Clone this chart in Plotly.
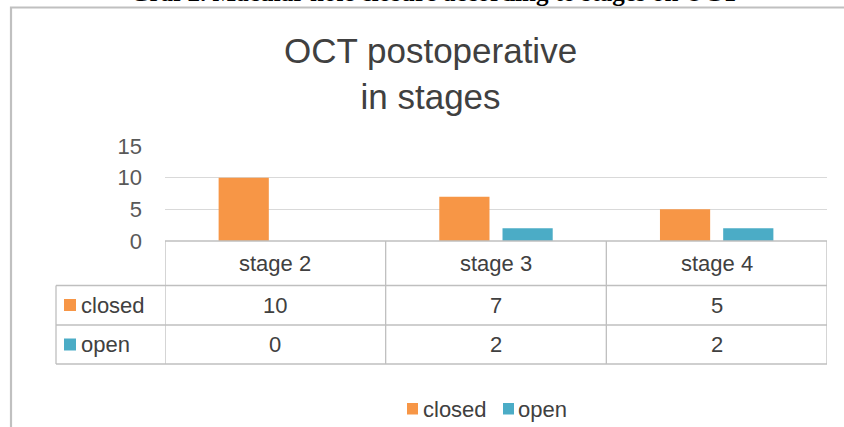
import plotly.graph_objects as go

# ---- data ----
categories = ["stage 2", "stage 3", "stage 4"]
series_names = ["closed", "open"]
closed = [10, 7, 5]
open_ = [0, 2, 2]
series_values = [closed, open_]
series_colors = ["#F79646", "#4BACC6"]
y_ticks = [0, 5, 10, 15]
title_text = "OCT postoperative<br>in stages"
caption_text = "<b>Graf 2. Macular hole closure according to stages on OCT</b>"

# ---- geometry (pixels) ----
W_FIG, H_FIG = 844, 427
L, R, T, B = 165, 17, 146, 186
PW = W_FIG - L - R
PH = H_FIG - T - B
BASE = H_FIG - B  # pixel row of y=0


def px(xp):
    return (xp - L) / PW


def py(yp):
    return (BASE - yp) / PH


fig = go.Figure()
for name, vals, col in zip(series_names, series_values, series_colors):
    fig.add_trace(go.Bar(x=categories, y=vals, name=name, marker_color=col,
                         marker_line_width=0, showlegend=False, hoverinfo="skip"))

grid_col = "#D9D9D9"
tab_col = "#BFBFBF"
txt_col = "#404040"
font_fam = "Liberation Sans, Arial, sans-serif"

shapes = []
annotations = []

# table horizontal lines
row_lines = [241, 285.5, 325, 364]
for i, yl in enumerate(row_lines):
    x0 = L if i == 0 else 56
    shapes.append(dict(type="line", xref="paper", yref="paper",
                       x0=px(x0), x1=px(L + PW), y0=py(yl), y1=py(yl),
                       line=dict(color=tab_col, width=1.3)))
# table vertical lines at category boundaries
n = len(categories)
for k in range(n + 1):
    shapes.append(dict(type="line", xref="x", yref="paper",
                       x0=k - 0.5, x1=k - 0.5, y0=py(241), y1=py(364),
                       line=dict(color=tab_col, width=1.3)))
shapes.append(dict(type="line", xref="paper", yref="paper",
                   x0=px(56), x1=px(56), y0=py(285.5), y1=py(364),
                   line=dict(color=tab_col, width=1.3)))

# header labels
for c in categories:
    annotations.append(dict(x=c, y=py(263.5), xref="x", yref="paper", text=c,
                            xanchor="center", yanchor="middle",
                            showarrow=False, font=dict(size=22, color=txt_col)))
# table values
row_centers = [305, 344.5]
for name, vals, col, yc in zip(series_names, series_values, series_colors, row_centers):
    for c, v in zip(categories, vals):
        annotations.append(dict(x=c, y=py(yc), xref="x", yref="paper", text=str(v),
                                xanchor="center", yanchor="middle",
                                showarrow=False, font=dict(size=22, color=txt_col)))
    shapes.append(dict(type="rect", xref="paper", yref="paper",
                       x0=px(64), x1=px(76), y0=py(yc - 6), y1=py(yc + 6),
                       fillcolor=col, line=dict(width=0)))
    annotations.append(dict(x=px(79), y=py(yc), xref="paper", yref="paper", text=name,
                            xanchor="left", yanchor="middle", showarrow=False,
                            font=dict(size=22, color=txt_col)))

# bottom legend
leg_items = [(407, 423), (503, 518)]
for (sx, tx), name, col in zip(leg_items, series_names, series_colors):
    shapes.append(dict(type="rect", xref="paper", yref="paper",
                       x0=px(sx), x1=px(sx + 11), y0=py(403), y1=py(414.5),
                       fillcolor=col, line=dict(width=0)))
    annotations.append(dict(x=px(tx - 2), y=py(409), xref="paper", yref="paper", text=name,
                            xanchor="left", yanchor="middle", showarrow=False,
                            font=dict(size=22, color=txt_col)))

# chart frame
shapes.append(dict(type="rect", xref="paper", yref="paper",
                   x0=px(11), x1=px(W_FIG + 10), y0=py(7.5), y1=py(H_FIG + 10),
                   line=dict(color="#C0C0C0", width=2.2), layer="below"))

# cut-off caption at top
annotations.append(dict(x=px(434), y=py(8), xref="paper", yref="paper",
                        text=caption_text, showarrow=False, xanchor="center",
                        yanchor="bottom",
                        font=dict(size=25, color="#000000",
                                  family="Liberation Serif, Times New Roman, serif")))

# title
annotations.append(dict(x=px(430), y=py(73.5), xref="paper", yref="paper",
                        text=title_text, showarrow=False, xanchor="center",
                        yanchor="middle", font=dict(size=35, color=txt_col)))

fig.update_layout(
    width=W_FIG, height=H_FIG,
    margin=dict(l=L, r=R, t=T, b=B, pad=0),
    paper_bgcolor="white", plot_bgcolor="white",
    font=dict(family=font_fam, color=txt_col),
    barmode="group", bargap=0.427, bargroupgap=0.206,
    xaxis=dict(showticklabels=False, showgrid=False, zeroline=False, showline=False,
               range=[-0.5, n - 0.5], fixedrange=True),
    yaxis=dict(range=[0, 15], tickvals=y_ticks, showgrid=True, gridcolor=grid_col,
               gridwidth=1.3, zeroline=False, showline=False, ticks="",
               ticklabelstandoff=22, tickfont=dict(size=22, color="#595959"),
               fixedrange=True),
    shapes=shapes,
    annotations=annotations,
)

fig.write_html("out.html", config={"displayModeBar": False},
               post_script="document.body.style.margin='0';document.body.style.overflow='hidden';")
